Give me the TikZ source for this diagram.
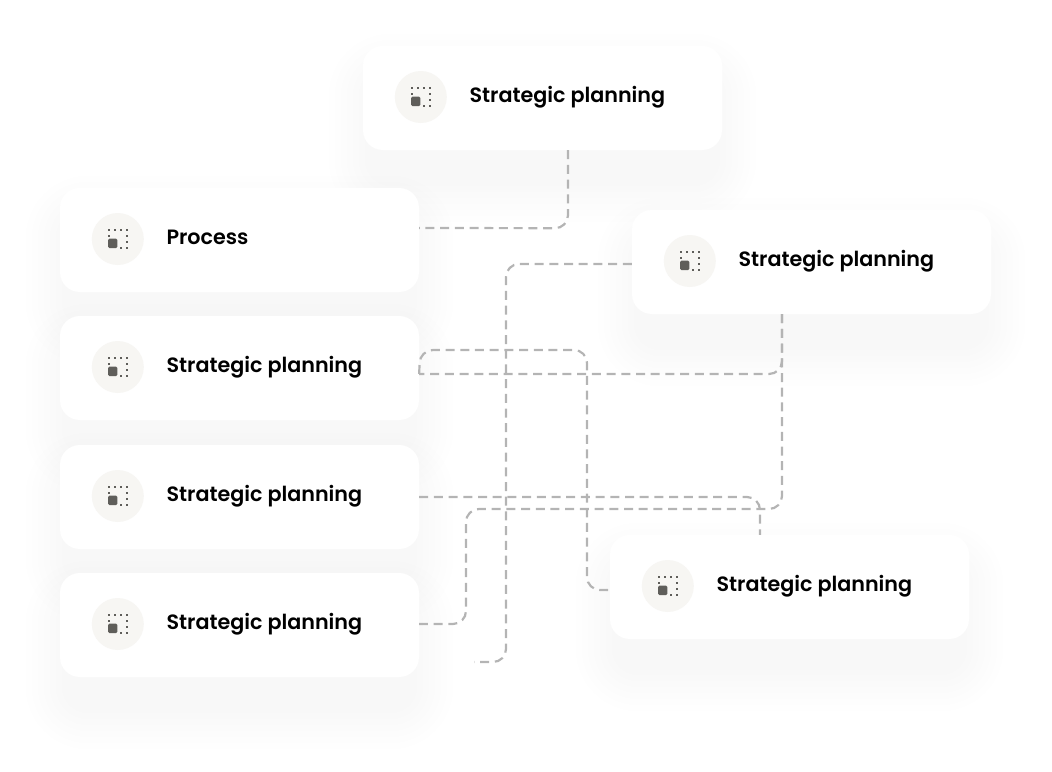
\documentclass[tikz,border=0pt]{standalone}
\usepackage{fontspec}
\setmainfont{Poppins SemiBold}
\usetikzlibrary{backgrounds,calc}
\definecolor{linegray}{HTML}{B4B4B4}
\definecolor{icondark}{HTML}{5F5E5A}
\definecolor{iconbg}{HTML}{F7F6F3}

\tikzset{
  card/.style={draw=none,fill=white,rounded corners=20pt,minimum width=359pt,minimum height=104pt,inner sep=0pt},
  cardicon/.style={circle,fill=iconbg,minimum size=52pt,inner sep=0pt},
  cardtext/.style={anchor=base west,inner sep=0pt,font=\fontsize{20.7pt}{24pt}\selectfont,text=black},
  link/.style={draw=linegray,line width=2.2pt,dash pattern=on 9pt off 5.7pt,rounded corners=13pt},
  dots/.pic={
    \foreach \dx/\dy in {0/0,6/0,12/0,18/0,0/6,18/6,18/12,18/18,12/18}
      \fill[icondark] (\dx-9-0.9,\dy-9-0.9) rectangle ++(1.8,1.8);
    \fill[icondark,rounded corners=1.5pt] (-9.8,-0.5) rectangle (-0.5,9.2);
  }
}

\begin{document}
\begin{tikzpicture}[x=1pt,y=-1pt]
  \useasboundingbox (0,0) rectangle (1052,771);

  \node[card] (top) at (542.5,98) {};
  \node[card] (proc) at (239.5,240) {};
  \node[card] (plan2) at (239.5,368) {};
  \node[card] (plan3) at (239.5,497) {};
  \node[card] (plan4) at (239.5,625) {};
  \node[card] (right1) at (811.5,262) {};
  \node[card] (right2) at (789.5,587) {};

  % icon discs and labels hang off the cards
  \foreach \c/\t in {top/Strategic planning,proc/Process,plan2/Strategic planning,
                     plan3/Strategic planning,plan4/Strategic planning,
                     right1/Strategic planning,right2/Strategic planning} {
    \node[cardicon] (\c icon) at ($(\c.west)+(58,-1)$) {};
    \pic at (\c icon.center) {dots};
    \node[cardtext] (\c text) at ($(\c.west)+(106.5,4)$) {\t};
  }

  % connectors
  \coordinate (free) at (474,662);
  \draw[link] ([xshift=25.5pt]top.south) -- ++(0,78) -- ([yshift=12pt]proc.east);
  \draw[link] ([yshift=-2pt]right1.west) -- (506,264) -- (506,662) -- (free);
  \draw[link] ([xshift=-29.5pt]right1.south) -- (782,374) -- ([yshift=-6pt]plan2.east);
  \draw[link] ([xshift=-29.5pt]right1.south) -- (782,509) -- (466,509) -- (466,624) -- ([yshift=1pt]plan4.east);
  \draw[link] ([yshift=-6pt]plan2.east) -- (420,350) -- (587,350) -- (587,590) -- ([yshift=-3pt]right2.west);
  \draw[link] (plan3.east) -- (760,497) -- ([xshift=-29.5pt]right2.north);

  \begin{scope}[on background layer]
    \foreach \c in {top,proc,plan2,plan3,plan4,right1,right2}
      \foreach \i in {1,...,7}
        \fill[black,opacity=0.003,rounded corners=20pt+\i*6pt]
          ($(\c.north west)+(-\i*6+8,30-\i*6)$) rectangle ($(\c.south east)+(\i*6-8,30+\i*6)$);
  \end{scope}
\end{tikzpicture}
\end{document}
